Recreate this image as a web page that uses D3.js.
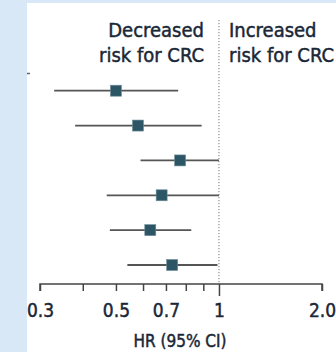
<!DOCTYPE html>
<html>
<head>
<meta charset="utf-8">
<script src="https://cdn.jsdelivr.net/npm/d3@7"></script>
<style>
  html, body { margin: 0; padding: 0; background: #d9e8f6; }
  svg { display: block; }
  text { font-family: "Liberation Sans Narrow", "DejaVu Sans Condensed", "Roboto", sans-serif; fill: #1a2736; stroke: #1a2736; stroke-width: 0.45px; }
</style>
</head>
<body>
<div id="chart"></div>
<script>
// Hazard ratios with 95% CI, one row per study line (top to bottom)
const rows = [1, 2, 3, 4, 5, 6];
const hr = [0.50, 0.58, 0.77, 0.68, 0.63, 0.73];
const lower = [0.33, 0.38, 0.59, 0.47, 0.48, 0.54];
const upper = [0.76, 0.89, 1.00, 1.00, 0.83, 0.99];

const tickValues = [0.3, 0.4, 0.5, 0.6, 0.7, 0.8, 0.9, 1, 2];
const tickLabels = { 0.3: '0.3', 0.5: '0.5', 0.7: '0.7', 1: '1', 2: '2.0' };

const width = 336, height = 352;

const svg = d3.select('#chart')
  .append('svg')
  .attr('width', width)
  .attr('height', height);

// white panel
svg.append('rect')
  .attr('x', 27)
  .attr('y', 3)
  .attr('width', width - 27)
  .attr('height', height - 3)
  .attr('fill', '#fff');

const clip = svg.append('clipPath').attr('id', 'panel');
clip.append('rect').attr('x', 27).attr('y', 3).attr('width', width - 27).attr('height', height - 3);

const g = svg.append('g').attr('clip-path', 'url(#panel)');

const x = d3.scaleLog()
  .domain([0.3, 2])
  .range([40, 322]);

const y = d3.scalePoint()
  .domain(rows)
  .range([90.7, 265]);

const axisY = 284;

// reference line at HR = 1
g.append('line')
  .attr('x1', x(1)).attr('x2', x(1))
  .attr('y1', 20).attr('y2', axisY)
  .attr('stroke', '#777')
  .attr('stroke-width', 1)
  .attr('stroke-dasharray', '1.2,1.8');

// stub at left edge
g.append('line')
  .attr('x1', 27).attr('x2', 30)
  .attr('y1', 73.5).attr('y2', 73.5)
  .attr('stroke', '#666')
  .attr('stroke-width', 1.5);

// axis
const axis = d3.axisBottom(x)
  .tickValues(tickValues)
  .tickSize(7)
  .tickPadding(13)
  .tickFormat(d => tickLabels[d] || '');

const ax = g.append('g')
  .attr('transform', `translate(0,${axisY})`)
  .call(axis);

ax.select('.domain')
  .attr('stroke', '#444')
  .attr('stroke-width', 1.5)
  .attr('d', `M${x(0.3)},7V0H${x(2)}V7`);
ax.selectAll('.tick line')
  .attr('stroke', '#444')
  .attr('stroke-width', 1.5)
  .attr('y2', d => d === 1 ? 12 : 7);
ax.selectAll('.tick text')
  .attr('fill', '#1a2736')
  .style('font-size', '19px');

// axis title
g.append('text')
  .attr('x', 180)
  .attr('y', 347)
  .attr('text-anchor', 'middle')
  .style('font-size', '17px')
  .text('HR (95% CI)');

// header labels
const header = [
  { x: 204, anchor: 'end', lines: ['Decreased', 'risk for CRC'] },
  { x: 229, anchor: 'start', lines: ['Increased', 'risk for CRC'] }
];
header.forEach(h => {
  h.lines.forEach((t, i) => {
    g.append('text')
      .attr('x', h.x)
      .attr('y', 37 + i * 25)
      .attr('text-anchor', h.anchor)
      .style('font-size', '20px')
      .text(t);
  });
});

// CI lines
g.selectAll('line.ci')
  .data(rows)
  .enter()
  .append('line')
  .attr('class', 'ci')
  .attr('x1', (d, i) => x(lower[i]))
  .attr('x2', (d, i) => x(upper[i]))
  .attr('y1', d => y(d))
  .attr('y2', d => y(d))
  .attr('stroke', '#555')
  .attr('stroke-width', 1.8);

// point estimates
const s = 11;
g.selectAll('rect.pt')
  .data(rows)
  .enter()
  .append('rect')
  .attr('class', 'pt')
  .attr('x', (d, i) => x(hr[i]) - s / 2)
  .attr('y', d => y(d) - s / 2)
  .attr('width', s)
  .attr('height', s)
  .attr('fill', '#2c5666')
  .attr('stroke', '#6f8e99')
  .attr('stroke-width', 0.6);
</script>
</body>
</html>
